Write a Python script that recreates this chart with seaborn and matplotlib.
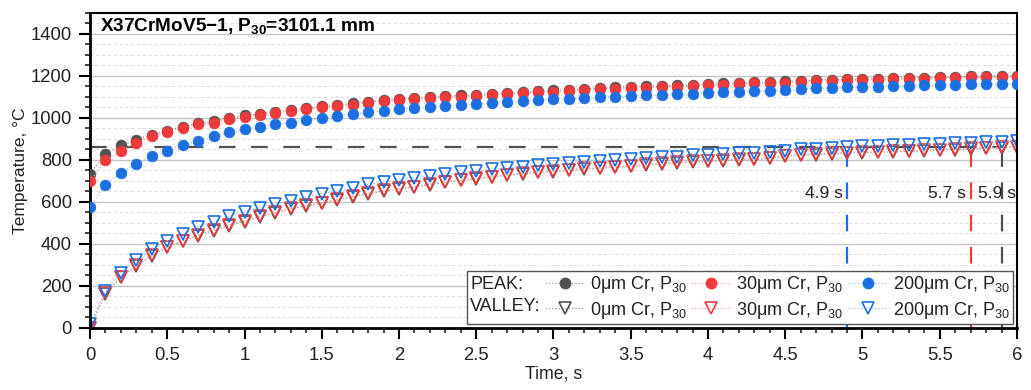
import numpy as np
import pandas as pd
import matplotlib
matplotlib.use("Agg")
import matplotlib.pyplot as plt
import seaborn as sns
from matplotlib.lines import Line2D
from matplotlib.ticker import MultipleLocator, FuncFormatter

# ---------------- data ----------------
time_s = np.round(np.arange(0, 6.05, 0.1), 1)

peak_0um = [735, 830, 869, 896, 920, 940, 959, 975, 985, 1000,
            1012, 1020, 1028, 1038, 1046, 1055, 1061, 1069, 1078, 1086,
            1091, 1096, 1100, 1104, 1108, 1111, 1116, 1119, 1123, 1127,
            1131, 1135, 1139, 1142, 1146, 1149, 1150, 1152, 1155, 1158,
            1162, 1165, 1168, 1171, 1172, 1174, 1178, 1181, 1183, 1184,
            1186, 1188, 1189, 1191, 1192, 1194, 1195, 1198, 1200, 1201, 1202]
peak_30um = [698, 798, 844, 883, 912, 931, 952, 969, 978, 994,
             1006, 1014, 1022, 1033, 1041, 1050, 1055, 1063, 1073, 1081,
             1086, 1090, 1094, 1098, 1102, 1105, 1110, 1113, 1117, 1122,
             1125, 1129, 1133, 1136, 1140, 1143, 1144, 1146, 1149, 1152,
             1156, 1159, 1162, 1165, 1166, 1168, 1173, 1176, 1178, 1179,
             1181, 1183, 1184, 1186, 1187, 1189, 1190, 1193, 1195, 1196, 1197]
peak_200um = [578, 682, 740, 781, 817, 844, 871, 891, 915, 931,
              946, 959, 969, 978, 990, 1000, 1011, 1019, 1027, 1035,
              1043, 1046, 1051, 1057, 1062, 1067, 1070, 1076, 1081, 1086,
              1089, 1092, 1095, 1098, 1102, 1105, 1108, 1110, 1113, 1116,
              1119, 1122, 1125, 1128, 1130, 1133, 1138, 1141, 1143, 1146,
              1148, 1149, 1152, 1154, 1155, 1157, 1159, 1160, 1161, 1162, 1163]
valley_0um = [0, 162, 242, 296, 344, 384, 413, 440, 464, 488,
              507, 530, 549, 567, 581, 594, 609, 625, 639, 652,
              662, 670, 683, 694, 703, 710, 718, 727, 734, 741,
              745, 750, 757, 760, 765, 770, 776, 781, 786, 791,
              794, 797, 800, 803, 808, 817, 823, 826, 829, 832,
              835, 837, 839, 841, 843, 846, 849, 853, 856, 858, 861]
valley_30um = [0, 165, 245, 299, 347, 387, 416, 443, 467, 491,
               510, 533, 552, 570, 584, 597, 612, 628, 642, 655,
               665, 673, 686, 697, 706, 713, 721, 730, 737, 744,
               748, 753, 760, 763, 768, 773, 779, 784, 789, 794,
               797, 800, 803, 806, 811, 820, 826, 829, 832, 835,
               838, 840, 842, 844, 846, 849, 852, 856, 859, 861, 864]
valley_200um = [20, 174, 264, 325, 376, 416, 448, 480, 507, 531,
                552, 573, 590, 606, 625, 640, 652, 665, 684, 697,
                705, 716, 724, 733, 741, 748, 756, 763, 768, 775,
                779, 784, 789, 794, 800, 803, 808, 813, 816, 822,
                824, 829, 832, 835, 838, 844, 850, 854, 858, 862,
                866, 868, 870, 872, 875, 877, 879, 882, 884, 887, 890]

threshold = 862
cross_times = [4.9, 5.7, 5.9]
cross_labels = ["4.9 s", "5.7 s", "5.9 s"]
series_labels = ["0\u03bcm Cr, P$_{30}$", "30\u03bcm Cr, P$_{30}$", "200\u03bcm Cr, P$_{30}$"]
row_labels = ["PEAK:", "VALLEY:"]
title = "X37CrMoV5\u22121, P$_{\\mathbf{30}}$=3101.1 mm"

# ---------------- style ----------------
sns.set_theme(style="ticks")
plt.rcParams["font.family"] = ["Liberation Sans", "DejaVu Sans"]
plt.rcParams["mathtext.fontset"] = "custom"
plt.rcParams["mathtext.rm"] = "Liberation Sans"
plt.rcParams["mathtext.it"] = "Liberation Sans:italic"
plt.rcParams["mathtext.bf"] = "Liberation Sans:bold"
plt.rcParams["mathtext.default"] = "regular"

colors = ["#505050", "#ee3a3a", "#1b6fe0"]
light = ["#9a9a9a", "#f5a5a5", "#9cbff0"]

fig = plt.figure(figsize=(10.31, 3.9), dpi=100)
ax = fig.add_axes([0.0873, 0.159, 0.8991, 0.8077])

peaks = [peak_0um, peak_30um, peak_200um]
valleys = [valley_0um, valley_30um, valley_200um]

# reference lines
ax.hlines(threshold, 0, max(cross_times), colors="#505050", linewidth=1.6,
          linestyles=(0, (7.5, 7)), zorder=1.5)
for t, c in zip(cross_times, colors[::-1]):
    ax.vlines(t, 0, threshold, colors=c, linewidth=1.6,
              linestyles=(0, (7.5, 7)), zorder=1.5)

label_x = [4.87, 5.67, 5.745]
label_ha = ["right", "right", "left"]
for x, lab, ha in zip(label_x, cross_labels, label_ha):
    ax.text(x, 640, lab, ha=ha, va="center", fontsize=12.5, color="#222222",
            clip_on=True, zorder=3)

handles_pk, handles_vl = [], []
for vals, c, lc in zip(valleys, colors, light):
    df = pd.DataFrame({"t": time_s, "T": vals})
    sns.lineplot(data=df, x="t", y="T", ax=ax, color=lc, linestyle=":",
                 linewidth=0.9, marker="v", markersize=8.2,
                 markerfacecolor="none", markeredgecolor=c,
                 markeredgewidth=1.2, sort=False, errorbar=None,
                 legend=False, zorder=2.5)
    handles_vl.append(Line2D([], [], color=lc, linestyle=":", linewidth=0.9,
                             marker="v", markersize=8, markerfacecolor="none",
                             markeredgecolor=c, markeredgewidth=1.2))
for vals, c, lc in zip(peaks, colors, light):
    df = pd.DataFrame({"t": time_s, "T": vals})
    sns.lineplot(data=df, x="t", y="T", ax=ax, color=lc, linestyle=":",
                 linewidth=0.9, marker="o", markersize=7.8,
                 markerfacecolor=c, markeredgecolor=c,
                 markeredgewidth=0.4, sort=False, errorbar=None,
                 legend=False, zorder=2.6)
    handles_pk.append(Line2D([], [], color=lc, linestyle=":", linewidth=0.9,
                             marker="o", markersize=7.5, markerfacecolor=c,
                             markeredgecolor=c))

# axes
ax.set_xlim(0, 6)
ax.set_ylim(0, 1500)
ax.xaxis.set_major_locator(MultipleLocator(0.5))
ax.xaxis.set_minor_locator(MultipleLocator(0.1))
ax.yaxis.set_major_locator(MultipleLocator(200))
ax.yaxis.set_minor_locator(MultipleLocator(50))
ax.xaxis.set_major_formatter(FuncFormatter(lambda v, p: f"{v:g}"))
ax.yaxis.set_major_formatter(FuncFormatter(lambda v, p: f"{v:g}" if v <= 1400 else ""))

ax.yaxis.grid(True, which="major", color="#c4c4c4", linewidth=1.0, linestyle="-")
ax.yaxis.grid(True, which="minor", color="#dadada", linewidth=0.7, linestyle=(0, (3, 3)))
ax.xaxis.grid(False)
ax.set_axisbelow(True)

for s in ax.spines.values():
    s.set_visible(True)
    s.set_color("black")
    s.set_linewidth(1.5)
ax.spines["left"].set_linewidth(2.0)
ax.spines["bottom"].set_linewidth(2.0)

ax.tick_params(axis="both", which="major", direction="out", length=8, width=1.5,
               labelsize=13.3, colors="black", top=False, right=False)
ax.tick_params(axis="both", which="minor", direction="out", length=3.8, width=1.2,
               top=False, right=False)
ax.tick_params(axis="x", which="major", pad=6)
ax.tick_params(axis="y", which="major", pad=5)
for lab in ax.get_xticklabels() + ax.get_yticklabels():
    lab.set_color("#222222")

ax.set_xlabel("Time, s", fontsize=12.8, color="#222222", labelpad=1)
ax.set_ylabel("Temperature, \u00b0C", fontsize=12.5, color="#222222", labelpad=2)

ax.text(0.011, 0.99, title, transform=ax.transAxes, ha="left", va="top",
        fontsize=13.7, fontweight="bold", color="black", zorder=4)

# legend: first column holds row labels with zero-width handles
blank1 = Line2D([], [], alpha=0)
blank2 = Line2D([], [], alpha=0)
handles = [blank1, blank2]
labels = list(row_labels)
for hp, hv, lab in zip(handles_pk, handles_vl, series_labels):
    handles += [hp, hv]
    labels += [lab, lab]

leg = ax.legend(handles, labels, ncol=4, loc="lower right",
                bbox_to_anchor=(0.9957, 0.0127), borderaxespad=0,
                frameon=True, fancybox=False, framealpha=1, edgecolor="#555555",
                handlelength=2.2, handletextpad=0.28, columnspacing=0.25,
                labelspacing=0.25, borderpad=0.18, fontsize=13, numpoints=1)
leg.get_frame().set_linewidth(1.0)
leg.set_zorder(5)
for txt in leg.get_texts():
    txt.set_color("#222222")
col0 = leg._legend_handle_box.get_children()[0]
for hpk in col0.get_children():
    hpk.get_children()[0].width = 0
    hpk.sep = 0

fig.savefig("out.png", dpi=100)
